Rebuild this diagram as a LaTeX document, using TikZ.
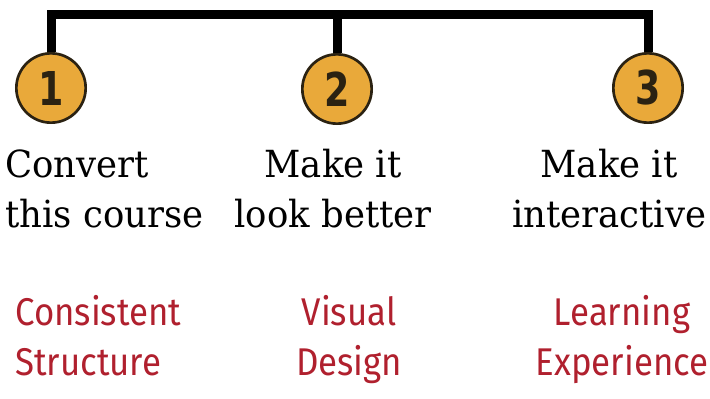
\documentclass[tikz,border=0pt]{standalone}
\usepackage{fontspec}
\newfontfamily\stepfont[FakeStretch=0.95]{DejaVu Serif}
\newfontfamily\goalfont[FakeStretch=0.9]{Fira Sans}
\newfontfamily\numfont[FakeStretch=0.78]{DejaVu Sans}
\definecolor{dotfill}{HTML}{E9A93A}
\definecolor{dotline}{HTML}{2B2212}
\definecolor{goalred}{HTML}{B0202E}

\begin{document}
\begin{tikzpicture}[x=0.75pt,y=-0.75pt,
	numdot/.style={circle,draw=dotline,line width=2pt,fill=dotfill,minimum size=52pt,inner sep=0pt,
		font=\numfont\bfseries\fontsize{35}{35}\selectfont,text=dotline},
	steptext/.style={inner sep=0pt,font=\stepfont\fontsize{28}{37.5}\selectfont},
	goaltext/.style={inner sep=0pt,text=goalred,font=\goalfont\fontsize{29}{37.5}\selectfont}]
	\useasboundingbox (0,0) rectangle (710,399);
	
	\node[numdot] (n1) at (51,88) {1};
	\node[numdot] (n2) at (337,89) {2};
	\node[numdot] (n3) at (648,88) {3};
	
	\coordinate (bar) at (0,15);
	\draw[line width=6.75pt,miter limit=10] (n1.north) -- (n1.north |- bar) -- (n3.north |- bar) -- (n3.north);
	\draw[line width=6.75pt] (n2.north) -- (n2.north |- bar);
	
	% base anchor sits on the last line
	\node[steptext,anchor=base west,align=left] (t1) at (5,227) {Convert\\this course};
	\node[steptext,anchor=base,align=center] (t2) at (333,227) {Make it\\look better};
	\node[steptext,anchor=base,align=center] (t3) at (609,227) {Make it\\interactive};
	
	\node[goaltext,anchor=base west,align=left] (g1) at (15,375) {Consistent\\Structure};
	\node[goaltext,anchor=base,align=center] (g2) at (349,375) {Visual\\Design};
	\node[goaltext,anchor=base,align=center] (g3) at (622,375) {Learning\\Experience};
\end{tikzpicture}
\end{document}
